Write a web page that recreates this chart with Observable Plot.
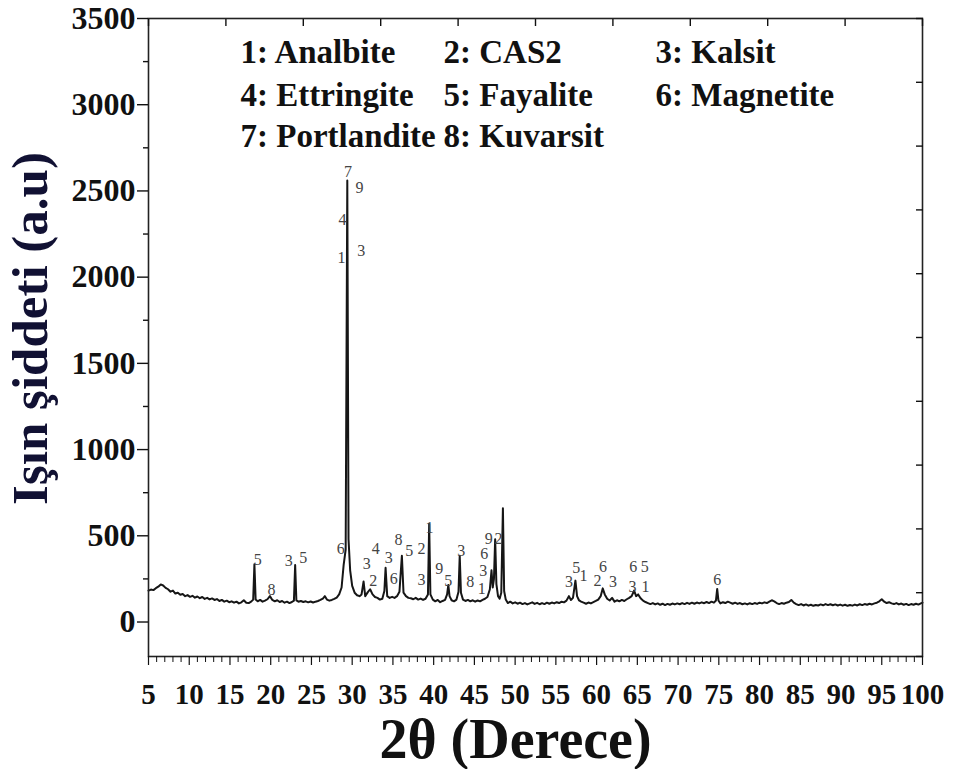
<!DOCTYPE html>
<html>
<head>
<meta charset="utf-8">
<script src="https://cdn.jsdelivr.net/npm/d3@7"></script>
<script src="https://cdn.jsdelivr.net/npm/@observablehq/plot@0.6"></script>
<style>
  html, body { margin: 0; padding: 0; background: #fff; }
  #chart { width: 963px; height: 769px; }
</style>
</head>
<body>
<div id="chart"></div>
<script>
// XRD scan: [2θ (degrees), intensity (a.u.)]
const scan = [
  [5.0,182],[5.3,188],[5.6,185],[5.9,196],[6.2,205],[6.5,218],[6.8,212],[7.1,198],[7.4,190],[7.7,176],
  [8.0,182],[8.3,165],[8.6,170],[8.9,158],[9.2,162],[9.5,150],[9.8,156],[10.1,146],[10.4,152],[10.7,141],
  [11.0,148],[11.3,138],[11.6,145],[11.9,134],[12.2,140],[12.5,131],[12.8,137],[13.1,128],[13.4,133],[13.7,122],
  [14.0,128],[14.3,118],[14.6,124],[14.9,115],[15.2,120],[15.5,112],[15.8,118],[16.1,108],[16.4,114],[16.7,126],
  [17.0,112],[17.3,110],[17.6,118],[17.85,130],[18.0,335],[18.15,130],[18.4,120],[18.7,128],[19.0,118],[19.3,124],
  [19.6,132],[19.9,150],[20.2,128],[20.5,120],[20.8,126],[21.1,116],[21.4,122],[21.7,112],[22.0,118],[22.3,110],
  [22.6,116],[22.85,124],[23.0,330],[23.15,125],[23.4,118],[23.7,122],[24.0,116],[24.3,120],[24.6,114],[24.9,119],
  [25.2,113],[25.5,118],[25.8,122],[26.1,128],[26.4,136],[26.65,150],[26.9,130],[27.2,124],[27.5,128],[27.8,134],
  [28.1,142],[28.4,160],[28.7,200],[28.95,330],[29.2,420],[29.4,2560],[29.55,480],[29.75,300],[30.0,210],[30.3,170],
  [30.6,155],[30.9,150],[31.15,160],[31.4,235],[31.6,150],[31.9,172],[32.2,190],[32.5,160],[32.8,145],[33.1,140],
  [33.4,130],[33.7,135],[33.95,180],[34.1,314],[34.3,150],[34.6,140],[34.9,146],[35.2,140],[35.5,150],[35.8,175],
  [36.1,384],[36.3,170],[36.6,150],[36.9,140],[37.2,138],[37.5,132],[37.8,140],[38.1,130],[38.4,136],[38.7,128],
  [39.0,135],[39.3,160],[39.45,570],[39.6,160],[39.9,130],[40.2,120],[40.5,128],[40.8,115],[41.1,122],[41.4,128],
  [41.65,160],[41.8,215],[41.95,150],[42.2,126],[42.5,120],[42.8,130],[43.05,175],[43.2,384],[43.35,170],[43.6,130],
  [43.9,122],[44.2,128],[44.5,120],[44.8,126],[45.1,118],[45.4,125],[45.7,120],[46.0,128],[46.3,135],[46.6,145],
  [46.9,190],[47.1,300],[47.25,200],[47.4,250],[47.55,480],[47.7,220],[47.9,150],[48.1,135],[48.3,170],[48.5,660],
  [48.65,180],[48.85,130],[49.1,110],[49.4,118],[49.7,108],[50.0,114],[50.3,106],[50.6,112],[50.9,104],[51.2,110],
  [51.5,102],[51.8,108],[52.1,114],[52.4,105],[52.7,111],[53.0,103],[53.3,110],[53.6,104],[53.9,112],[54.2,106],
  [54.5,113],[54.8,108],[55.1,115],[55.4,110],[55.7,118],[56.0,114],[56.3,124],[56.6,150],[56.85,128],[57.1,140],
  [57.4,240],[57.6,150],[57.85,125],[58.1,118],[58.4,112],[58.7,106],[59.0,113],[59.3,108],[59.6,115],[59.9,122],
  [60.2,130],[60.5,150],[60.75,195],[61.0,160],[61.3,135],[61.6,125],[61.9,140],[62.2,118],[62.5,126],[62.8,120],
  [63.1,128],[63.4,122],[63.7,132],[64.0,140],[64.3,150],[64.6,182],[64.85,150],[65.1,160],[65.4,138],[65.7,124],
  [66.0,116],[66.3,110],[66.6,104],[66.9,110],[67.2,102],[67.5,108],[67.8,100],[68.1,106],[68.4,98],[68.7,105],
  [69.0,100],[69.3,107],[69.6,102],[69.9,108],[70.2,103],[70.5,110],[70.8,104],[71.1,111],[71.4,105],[71.7,112],
  [72.0,106],[72.3,113],[72.6,108],[72.9,114],[73.2,109],[73.5,116],[73.8,110],[74.1,118],[74.4,112],[74.65,125],
  [74.8,192],[74.95,125],[75.2,108],[75.5,115],[75.8,110],[76.1,118],[76.4,112],[76.7,106],[77.0,112],[77.3,105],
  [77.6,110],[77.9,103],[78.2,108],[78.5,102],[78.8,109],[79.1,104],[79.4,110],[79.7,105],[80.0,112],[80.3,108],
  [80.6,114],[80.9,110],[81.2,118],[81.5,126],[81.8,120],[82.1,110],[82.4,104],[82.7,110],[83.0,106],[83.3,112],
  [83.6,116],[83.9,128],[84.2,112],[84.5,104],[84.8,98],[85.1,104],[85.4,96],[85.7,102],[86.0,95],[86.3,100],
  [86.6,94],[86.9,99],[87.2,96],[87.5,102],[87.8,97],[88.1,104],[88.4,98],[88.7,103],[89.0,97],[89.3,102],
  [89.6,96],[89.9,101],[90.2,95],[90.5,100],[90.8,94],[91.1,99],[91.4,95],[91.7,101],[92.0,96],[92.3,103],
  [92.6,98],[92.9,104],[93.2,100],[93.5,106],[93.8,102],[94.1,108],[94.4,112],[94.7,120],[95.0,132],[95.3,118],
  [95.6,110],[95.9,115],[96.2,108],[96.5,104],[96.8,110],[97.1,102],[97.4,107],[97.7,100],[98.0,105],[98.3,98],
  [98.6,104],[98.9,100],[99.2,106],[99.5,101],[99.8,108],[100.0,112]
];

// Phase numbers written next to peaks: label, 2θ, intensity
const peakLabelText = ["5","8","3","5","6","7","9","4","3","1","3","2","4","3","6","8","5","2","3","1","9","5","3","8","1","3","6","9","2","3","5","1","2","6","3","6","5","3","1","6"];
const peakLabelAngle = [18.4,20.1,22.2,24.0,28.6,29.5,30.9,28.8,31.1,28.7,31.8,32.6,32.9,34.5,35.1,35.7,37.0,38.5,38.5,39.5,40.7,41.8,43.4,44.5,45.9,46.1,46.2,46.75,47.95,56.6,57.5,58.4,60.1,60.8,62.0,64.5,65.9,64.4,66.0,74.8];
const peakLabelIntensity = [360,185,355,370,425,2610,2520,2335,2150,2110,340,240,425,370,250,475,415,425,245,545,310,240,415,230,195,295,395,485,485,230,315,270,240,320,235,320,320,205,205,245];

// Legend of phases
const phaseLabels = ["1: Analbite","2: CAS2","3: Kalsit","4: Ettringite","5: Fayalite","6: Magnetite","7: Portlandite","8: Kuvarsit"];

// Axis ticks
const xTickValues = [5,10,15,20,25,30,35,40,45,50,55,60,65,70,75,80,85,90,95,100];
const yTickValues = [0,500,1000,1500,2000,2500,3000,3500];
const yMinorTicks = [250,750,1250,1750,2250,2750,3250];
const topTicks = [5,14.5,24,33.5,43,52.5,62,71.5,81,90.5,100];
const rightTicks = [-200,170,540,910,1280,1650,2020,2390,2760,3130,3500];

const xTitle = "2θ (Derece)";
const yTitle = "Işın şiddeti (a.u)";

const data = scan.map(([a, v]) => ({angle: a, intensity: v}));
const labels = peakLabelText.map((t, i) => ({text: t, angle: peakLabelAngle[i], intensity: peakLabelIntensity[i]}));
const xMinor = d3.range(5, 101).filter(v => v % 5 !== 0);

const serif = "'Liberation Serif', 'Times New Roman', serif";
const mL = 148, mT = 18;
const legendCols = [240, 443, 655];
const legendRows = [52, 95, 136];

const legendMarks = phaseLabels.map((t, i) => Plot.text([t], {
  frameAnchor: "top-left",
  dx: legendCols[i % 3] - mL,
  dy: legendRows[Math.floor(i / 3)] - mT,
  textAnchor: "start",
  lineAnchor: "middle",
  fontSize: 33,
  fontWeight: "bold",
  fill: "#111"
}));

const chart = Plot.plot({
  width: 963,
  height: 769,
  marginLeft: 148,
  marginRight: 41,
  marginTop: 18,
  marginBottom: 113,
  x: {domain: [5, 100]},
  y: {domain: [-200, 3500]},
  style: {fontFamily: serif, background: "#fff", color: "#111", overflow: "visible"},
  marks: [
    Plot.line(data, {x: "angle", y: "intensity", stroke: "#161616", strokeWidth: 2}),
    Plot.text(labels, {x: "angle", y: "intensity", text: "text", fontSize: 16, fill: "#444"}),
    Plot.frame({stroke: "#222", strokeWidth: 1.6}),
    Plot.axisY(yTickValues, {anchor: "left", tickSize: 11, tickPadding: 2, fontSize: 32, fontWeight: "bold", strokeWidth: 1.4, tickFormat: d => String(d), label: null}),
    Plot.axisY(yMinorTicks, {anchor: "left", tickSize: 5, tickFormat: () => "", strokeWidth: 1.4, label: null}),
    Plot.axisY(rightTicks, {anchor: "right", tickSize: -7, tickFormat: () => "", strokeWidth: 1.4, label: null}),
    Plot.axisX(xTickValues, {anchor: "bottom", tickSize: 9, tickPadding: 18, fontSize: 29, fontWeight: "bold", strokeWidth: 1.2, tickFormat: d => String(d), label: null}),
    Plot.axisX(xMinor, {anchor: "bottom", tickSize: 6, tickFormat: () => "", strokeWidth: 1, label: null}),
    Plot.axisX(topTicks, {anchor: "top", tickSize: -7, tickFormat: () => "", strokeWidth: 1.4, label: null}),
    Plot.text([yTitle], {frameAnchor: "left", dx: -118, dy: -9, rotate: -90, fontSize: 51, fontWeight: "bold", fill: "#111133", textAnchor: "middle", lineAnchor: "middle"}),
    Plot.text([xTitle], {frameAnchor: "bottom", dx: -20, dy: 84, fontSize: 56, fontWeight: "bold", fill: "#111", textAnchor: "middle", lineAnchor: "middle"}),
    ...legendMarks
  ]
});
document.getElementById("chart").appendChild(chart);
</script>
</body>
</html>
